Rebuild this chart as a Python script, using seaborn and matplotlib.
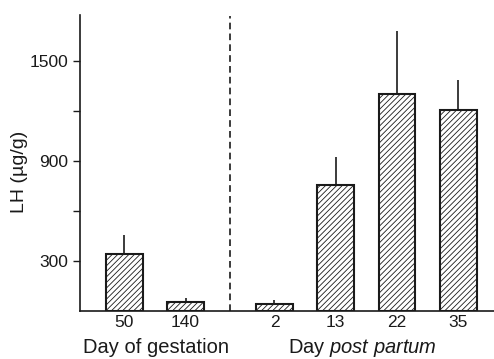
import matplotlib
matplotlib.use("Agg")
import matplotlib.pyplot as plt
import matplotlib.transforms as mtransforms
import seaborn as sns
import pandas as pd
import numpy as np

# ---- data ----
days = ["50", "140", "2", "13", "22", "35"]
positions = [0.0, 1.0, 2.45, 3.45, 4.45, 5.45]
lh_mean = [342, 54, 42, 756, 1302, 1206]
lh_err = [114, 24, 24, 168, 378, 180]
groups = ["Day of gestation", "Day $\\it{post\\ partum}$"]
group_centers = [0.52, 3.88]

sns.set_theme(style="ticks")
plt.rcParams['font.family'] = ['Liberation Sans', 'DejaVu Sans']
plt.rcParams['mathtext.fontset'] = 'custom'
plt.rcParams['mathtext.rm'] = 'Liberation Sans'
plt.rcParams['mathtext.it'] = 'Liberation Sans:italic'
plt.rcParams['hatch.linewidth'] = 0.6

df = pd.DataFrame({"pos": positions, "LH": lh_mean, "day": days})

fig = plt.figure(figsize=(4.94, 3.59), dpi=100)
ax = fig.add_axes([0.162, 0.134, 0.838, 0.824])

sns.barplot(data=df, x="pos", y="LH", native_scale=True, width=0.6,
            color="white", edgecolor="#1a1a1a", linewidth=1.5, ax=ax,
            errorbar=None)
for p in ax.patches:
    p.set_hatch("//////")
    p.set_facecolor("white")

ax.vlines(positions, np.array(lh_mean), np.array(lh_mean) + np.array(lh_err),
          color="#1a1a1a", linewidth=1.2)

# dashed separator
ax.vlines([1.72], 0, 1770, colors="#1a1a1a", linestyles=(0, (4, 2.5)), linewidth=1.2)

ax.set_xlim(-0.72, 6.03)
ax.set_ylim(0, 1776)
ax.set_xticks(positions)
ax.set_xticklabels(days, fontsize=12.5, color="#1a1a1a")
ax.tick_params(axis="x", length=0, pad=3)
ax.set_yticks([300, 900, 1500])
ax.set_yticks([600, 1200], minor=True)
ax.tick_params(axis="y", which="both", length=5, width=1, labelsize=12.5,
               colors="#1a1a1a", direction="out")
ax.set_xlabel("")
ax.set_ylabel("LH (µg/g)", fontsize=14, color="#1a1a1a", va="center")
ax.yaxis.set_label_coords(-0.147, 0.47)

for s in ["top", "right"]:
    ax.spines[s].set_visible(False)
ax.spines["left"].set_linewidth(1.2)
ax.spines["bottom"].set_linewidth(1.2)
ax.spines["left"].set_color("#1a1a1a")
ax.spines["bottom"].set_color("#1a1a1a")

trans = mtransforms.blended_transform_factory(ax.transData, ax.transAxes)
for c, g in zip(group_centers, groups):
    ax.text(c, -0.143, g, transform=trans, ha="center", va="baseline",
            fontsize=14.5, color="#1a1a1a")

fig.savefig("out.png", dpi=100)
